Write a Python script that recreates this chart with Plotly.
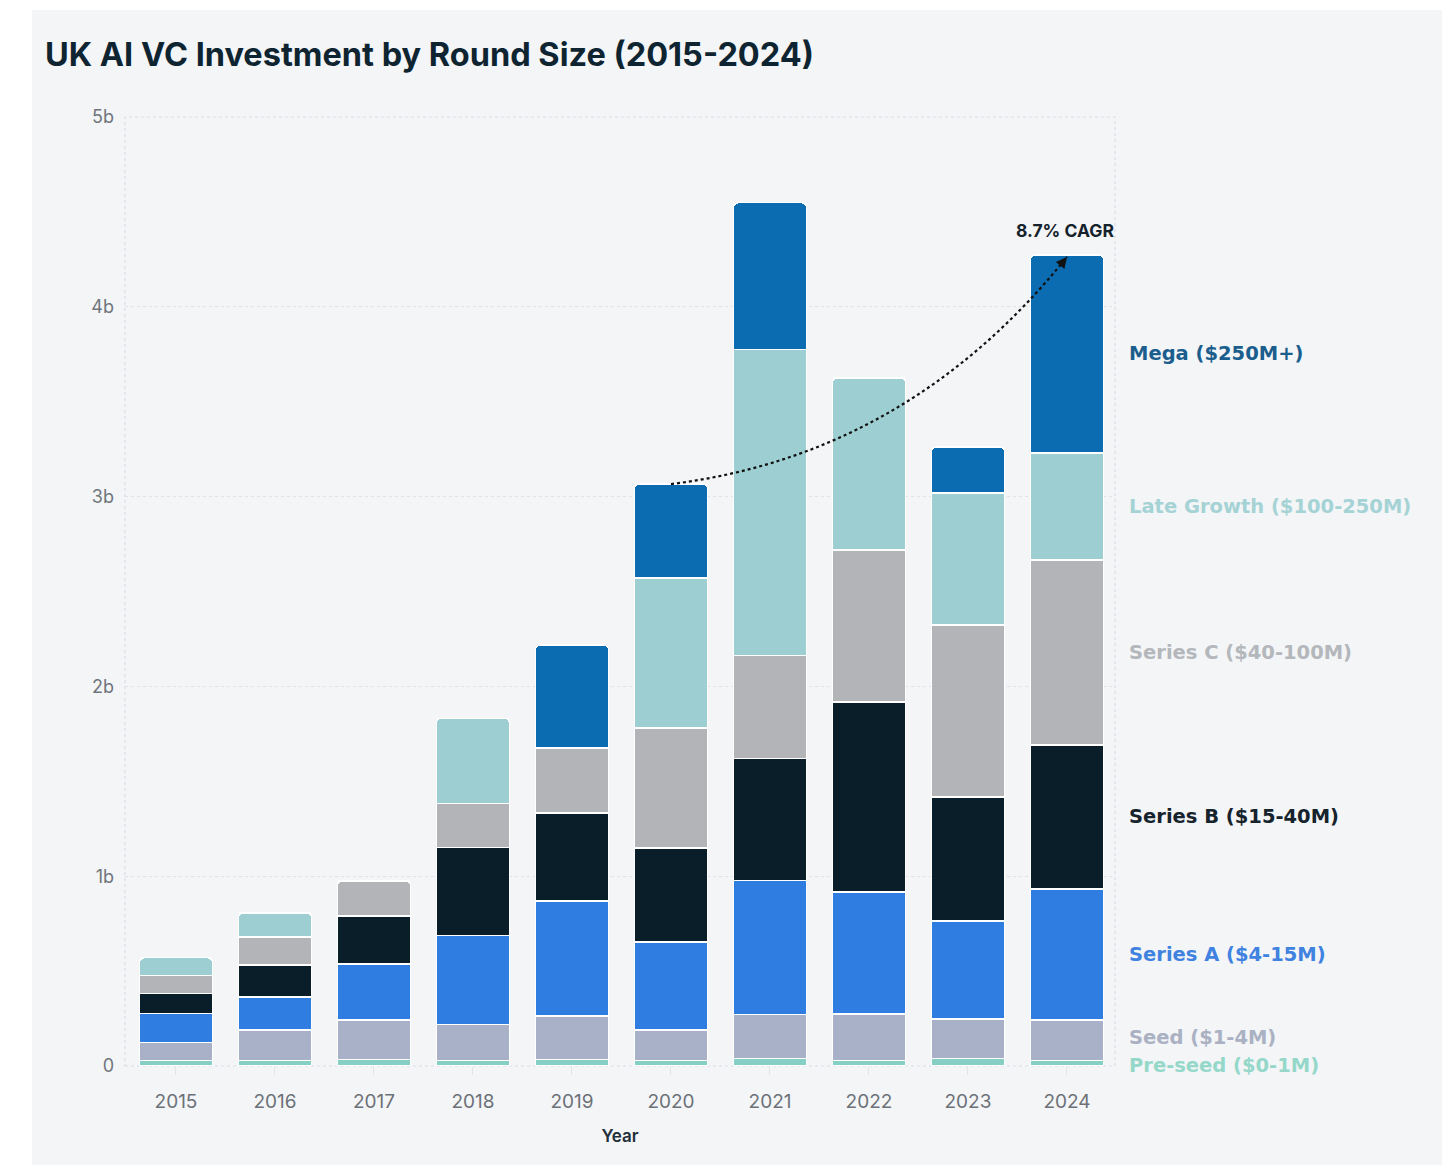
import plotly.graph_objects as go

years = [2015, 2016, 2017, 2018, 2019, 2020, 2021, 2022, 2023, 2024]

series_names = ["Pre-seed ($0-1M)", "Seed ($1-4M)", "Series A ($4-15M)", "Series B ($15-40M)",
                "Series C ($40-100M)", "Late Growth ($100-250M)", "Mega ($250M+)"]

pre_seed    = [0.030, 0.030, 0.035, 0.030, 0.035, 0.030, 0.040, 0.030, 0.040, 0.030]
seed        = [0.095, 0.160, 0.207, 0.190, 0.228, 0.160, 0.230, 0.244, 0.208, 0.212]
series_a    = [0.150, 0.174, 0.295, 0.469, 0.606, 0.463, 0.706, 0.643, 0.516, 0.691]
series_b    = [0.105, 0.168, 0.253, 0.464, 0.464, 0.496, 0.643, 1.001, 0.653, 0.758]
series_c    = [0.095, 0.148, 0.185, 0.232, 0.342, 0.632, 0.542, 0.801, 0.906, 0.975]
late_growth = [0.095, 0.126, 0.000, 0.447, 0.000, 0.790, 1.613, 0.906, 0.696, 0.564]
mega        = [0.000, 0.000, 0.000, 0.000, 0.543, 0.495, 0.774, 0.000, 0.242, 1.043]

y_tick_vals = [0, 1, 2, 3, 4, 5]
y_tick_text = ["0", "1b", "2b", "3b", "4b", "5b"]
cagr_text = "8.7% CAGR"

series_values = [pre_seed, seed, series_a, series_b, series_c, late_growth, mega]
bar_colors = ["#86cfc4", "#a9b1c9", "#2f7de1", "#0a1e29", "#b2b4b8", "#9dcfd2", "#0c6cb2"]
label_colors = ["#95d8ca", "#aab1c3", "#3f82e0", "#16232c", "#b4b7bb", "#a5d3d5", "#1b5e8e"]
label_nudge = [-2, 3, 0, 0, 0, 0, 0]

FONT = "Inter"

fig = go.Figure()
for name, vals, col in zip(series_names, series_values, bar_colors):
    fig.add_trace(go.Bar(
        x=years, y=vals, name=name,
        marker=dict(color=col, line=dict(color="#ffffff", width=1.2)),
        showlegend=False,
    ))

# right-side labels aligned to 2024 segment midpoints
cum = 0.0
for name, vals, col, nudge in zip(series_names, series_values, label_colors, label_nudge):
    v = vals[-1]
    mid = cum + v / 2
    cum += v
    fig.add_annotation(
        x=1, xref="paper", y=mid, yref="y", xanchor="left", yanchor="middle",
        xshift=12, yshift=nudge, text=name, showarrow=False,
        font=dict(family="DejaVu Sans", size=19.5, color=col, weight=700),
    )

totals = [sum(s[i] for s in series_values) for i in range(len(years))]
x0, y0 = years[5], totals[5]
x1, y1 = years[9], totals[9] - 0.01
cx = x0 + 0.60 * (x1 - x0)
cy = y0 + 0.13 * (y1 - y0)
fig.add_shape(type="path", path=f"M {x0},{y0} Q {cx},{cy} {x1},{y1}",
              xref="x", yref="y", line=dict(color="#111111", width=2.2, dash="dot"),
              layer="above")
fig.add_annotation(x=x1, y=y1, xref="x", yref="y", ax=-8, ay=10, showarrow=True,
                   arrowhead=2, arrowsize=1.1, arrowwidth=2, arrowcolor="#111111",
                   standoff=0, text="")
fig.add_annotation(x=x1, y=y1, xref="x", yref="y", yshift=26, xshift=-2, showarrow=False,
                   text=cagr_text, font=dict(family=FONT, size=17.5, color="#15222c", weight=700))

# background card (left/top margins white)
fig.add_shape(type="rect", xref="paper", yref="paper",
              x0=(32 - 125) / 990, x1=1.35, y0=(1066 - 1166) / 949, y1=(1066 - 10) / 949,
              fillcolor="#f3f5f7", line=dict(width=0), layer="below")
# dotted plot border
fig.add_shape(type="rect", xref="paper", yref="paper", x0=0, x1=1, y0=0, y1=1,
              line=dict(color="#dadee3", width=1.2, dash="dot"), layer="below")

fig.update_layout(
    width=1442, height=1165,
    margin=dict(l=125, r=327, t=117, b=99),
    paper_bgcolor="#ffffff", plot_bgcolor="rgba(0,0,0,0)",
    barmode="stack", bargap=0.263, barcornerradius=5,
    title=dict(text="UK AI VC Investment by Round Size (2015-2024)", x=45 / 1442, xref="container",
               xanchor="left", y=1 - 55 / 1165, yref="container", yanchor="middle",
               font=dict(family=FONT, size=32.5, color="#0f2431", weight=700)),
    font=dict(family=FONT),
)
fig.update_xaxes(range=[2014.485, 2024.485], tickvals=years, ticktext=[str(y) for y in years],
                 showgrid=False, zeroline=False, showline=False,
                 ticks="outside", ticklen=8, tickcolor="#e1e4e8", tickwidth=1,
                 ticklabelstandoff=10,
                 tickfont=dict(family=FONT, size=19, color="#6c7178"),
                 title=dict(text="Year", font=dict(family=FONT, size=17, color="#22303a", weight=600),
                            standoff=18))
fig.update_yaxes(range=[0, 5], tickvals=y_tick_vals, ticktext=y_tick_text,
                 showgrid=True, gridcolor="#dfe2e6", griddash="dot", gridwidth=1.2,
                 zeroline=False, showline=False, ticks="", ticklabelstandoff=10,
                 tickfont=dict(family=FONT, size=18, color="#70757c"))

fig.write_html("out.html")
